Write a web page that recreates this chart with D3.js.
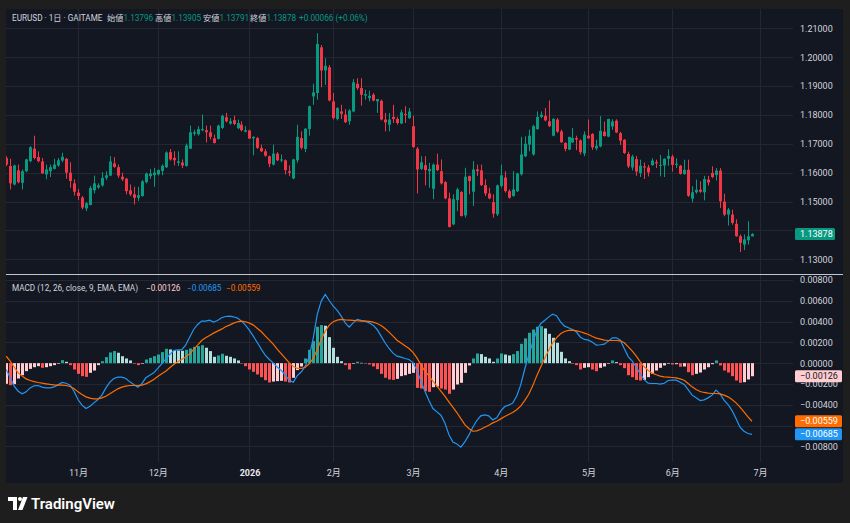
<!DOCTYPE html>
<html>
<head>
<meta charset="utf-8">
<script src="https://cdn.jsdelivr.net/npm/d3@7"></script>
<style>
  html, body { margin: 0; padding: 0; background: #1e1e1e; }
  svg { display: block; font-family: Roboto, "Noto Sans CJK JP", sans-serif; }
</style>
</head>
<body>
<svg id="chart" width="850" height="523"></svg>
<script>
// daily EURUSD bars (index 0 = first visible bar)
const opens = [
1.1651,1.1623,1.1559,1.1608,1.1565,1.1605,1.1640,1.1683,1.1654,1.1639,
1.1594,1.1605,1.1613,1.1625,1.1642,1.1648,1.1600,1.1563,1.1531,1.1514,
1.1476,1.1488,1.1539,1.1549,1.1556,1.1582,1.1590,1.1632,1.1619,1.1586,
1.1579,1.1539,1.1525,1.1513,1.1519,1.1567,1.1588,1.1591,1.1594,1.1606,
1.1619,1.1671,1.1651,1.1634,1.1635,1.1623,1.1683,1.1735,1.1733,1.1747,
1.1747,1.1740,1.1719,1.1717,1.1755,1.1792,1.1770,1.1782,1.1754,1.1766,
1.1742,1.1746,1.1719,1.1720,1.1686,1.1674,1.1657,1.1628,1.1666,1.1642,
1.1643,1.1605,1.1580,1.1643,1.1720,1.1682,1.1751,1.1864,1.1876,1.2034,
1.1954,1.1965,1.1847,1.1786,1.1812,1.1801,1.1778,1.1812,1.1908,1.1893,
1.1867,1.1858,1.1870,1.1847,1.1849,1.1784,1.1766,1.1793,1.1786,1.1770,
1.1803,1.1789,1.1761,1.1683,1.1613,1.1626,1.1605,1.1544,1.1628,1.1605,
1.1567,1.1511,1.1421,1.1505,1.1533,1.1452,1.1588,1.1534,1.1611,1.1608,
1.1557,1.1528,1.1498,1.1456,1.1554,1.1583,1.1536,1.1519,1.1536,1.1594,
1.1657,1.1697,1.1663,1.1751,1.1793,1.1797,1.1778,1.1728,1.1784,1.1743,
1.1703,1.1680,1.1705,1.1720,1.1712,1.1666,1.1728,1.1734,1.1684,1.1691,
1.1742,1.1725,1.1760,1.1780,1.1737,1.1714,1.1665,1.1618,1.1647,1.1599,
1.1622,1.1618,1.1626,1.1636,1.1624,1.1625,1.1648,1.1656,1.1627,1.1624,
1.1595,1.1610,1.1510,1.1532,1.1541,1.1532,1.1576,1.1599,1.1592,1.1607,
1.1500,1.1455,1.1455,1.1423,1.1380,1.1351,1.1366,1.13796];
const highs = [
1.1657,1.1648,1.1628,1.1628,1.1611,1.1648,1.1692,1.1728,1.1674,1.1651,
1.1628,1.1628,1.1648,1.1651,1.1669,1.1651,1.1636,1.1577,1.1544,1.1519,
1.1498,1.1554,1.1590,1.1563,1.1602,1.1605,1.1657,1.1654,1.1628,1.1600,
1.1582,1.1559,1.1551,1.1551,1.1574,1.1600,1.1613,1.1617,1.1611,1.1628,
1.1674,1.1682,1.1674,1.1674,1.1646,1.1701,1.1763,1.1749,1.1761,1.1801,
1.1763,1.1763,1.1732,1.1766,1.1801,1.1807,1.1789,1.1797,1.1784,1.1778,
1.1761,1.1749,1.1726,1.1724,1.1697,1.1682,1.1659,1.1697,1.1671,1.1663,
1.1646,1.1625,1.1648,1.1766,1.1743,1.1755,1.1832,1.1908,1.2083,1.2042,
1.1996,1.1973,1.1876,1.1827,1.1835,1.1820,1.1820,1.1924,1.1927,1.1927,
1.1887,1.1884,1.1876,1.1855,1.1853,1.1807,1.1807,1.1835,1.1793,1.1818,
1.1830,1.1824,1.1797,1.1689,1.1657,1.1657,1.1634,1.1632,1.1666,1.1646,
1.1571,1.1531,1.1525,1.1548,1.1536,1.1617,1.1590,1.1640,1.1628,1.1628,
1.1577,1.1548,1.1525,1.1559,1.1628,1.1605,1.1542,1.1605,1.1600,1.1724,
1.1726,1.1749,1.1766,1.1812,1.1812,1.1824,1.1850,1.1789,1.1789,1.1749,
1.1705,1.1724,1.1755,1.1728,1.1715,1.1743,1.1784,1.1737,1.1714,1.1796,
1.1777,1.1787,1.1785,1.1785,1.1742,1.1716,1.1673,1.1662,1.1658,1.1645,
1.1635,1.1627,1.1650,1.1645,1.1662,1.1650,1.1681,1.1662,1.1650,1.1627,
1.1645,1.1645,1.1553,1.1576,1.1570,1.1589,1.1589,1.1622,1.1616,1.1616,
1.1527,1.1478,1.1472,1.1438,1.1386,1.1386,1.1432,1.13905];
const lows = [
1.1623,1.1542,1.1556,1.1563,1.1542,1.1602,1.1636,1.1646,1.1636,1.1597,
1.1577,1.1585,1.1611,1.1620,1.1636,1.1579,1.1548,1.1521,1.1505,1.1473,
1.1467,1.1487,1.1528,1.1544,1.1551,1.1574,1.1588,1.1617,1.1582,1.1571,
1.1525,1.1519,1.1490,1.1502,1.1517,1.1563,1.1579,1.1551,1.1590,1.1591,
1.1616,1.1642,1.1625,1.1623,1.1616,1.1621,1.1682,1.1728,1.1728,1.1743,
1.1705,1.1715,1.1701,1.1715,1.1751,1.1774,1.1766,1.1765,1.1751,1.1743,
1.1740,1.1717,1.1660,1.1682,1.1671,1.1655,1.1619,1.1625,1.1640,1.1636,
1.1594,1.1588,1.1577,1.1634,1.1680,1.1671,1.1728,1.1835,1.1853,1.1896,
1.1904,1.1847,1.1784,1.1781,1.1786,1.1772,1.1766,1.1809,1.1887,1.1832,
1.1853,1.1847,1.1847,1.1807,1.1781,1.1743,1.1743,1.1772,1.1766,1.1769,
1.1772,1.1786,1.1686,1.1528,1.1609,1.1556,1.1548,1.1508,1.1605,1.1559,
1.1508,1.1410,1.1418,1.1467,1.1448,1.1444,1.1525,1.1485,1.1588,1.1554,
1.1519,1.1508,1.1444,1.1450,1.1548,1.1531,1.1510,1.1517,1.1533,1.1590,
1.1654,1.1674,1.1659,1.1749,1.1789,1.1778,1.1758,1.1726,1.1738,1.1703,
1.1674,1.1678,1.1703,1.1678,1.1663,1.1657,1.1717,1.1679,1.1677,1.1688,
1.1725,1.1723,1.1748,1.1737,1.1696,1.1665,1.1616,1.1608,1.1589,1.1585,
1.1578,1.1587,1.1624,1.1616,1.1587,1.1585,1.1624,1.1604,1.1616,1.1593,
1.1593,1.1516,1.1497,1.1527,1.1530,1.1504,1.1555,1.1581,1.1573,1.1478,
1.1449,1.1417,1.1420,1.1378,1.1325,1.1332,1.1351,1.13791];
const closes = [
1.1628,1.1563,1.1625,1.1567,1.1605,1.1646,1.1688,1.1651,1.1640,1.1597,
1.1611,1.1619,1.1628,1.1643,1.1655,1.1600,1.1571,1.1534,1.1519,1.1479,
1.1494,1.1547,1.1563,1.1556,1.1582,1.1591,1.1639,1.1620,1.1590,1.1577,
1.1536,1.1525,1.1513,1.1522,1.1570,1.1597,1.1597,1.1600,1.1609,1.1624,
1.1670,1.1646,1.1643,1.1639,1.1625,1.1694,1.1740,1.1740,1.1751,1.1751,
1.1740,1.1724,1.1703,1.1763,1.1797,1.1778,1.1778,1.1769,1.1772,1.1747,
1.1747,1.1718,1.1724,1.1686,1.1674,1.1659,1.1631,1.1666,1.1643,1.1646,
1.1609,1.1600,1.1646,1.1724,1.1686,1.1752,1.1830,1.1878,1.2046,1.1954,
1.1970,1.1850,1.1789,1.1824,1.1804,1.1775,1.1815,1.1913,1.1893,1.1870,
1.1872,1.1866,1.1850,1.1855,1.1784,1.1774,1.1784,1.1786,1.1772,1.1809,
1.1800,1.1812,1.1689,1.1611,1.1636,1.1609,1.1613,1.1628,1.1609,1.1563,
1.1511,1.1412,1.1508,1.1542,1.1450,1.1586,1.1571,1.1611,1.1605,1.1557,
1.1528,1.1511,1.1458,1.1556,1.1591,1.1536,1.1513,1.1542,1.1597,1.1663,
1.1700,1.1728,1.1761,1.1793,1.1801,1.1781,1.1761,1.1786,1.1742,1.1705,
1.1682,1.1724,1.1720,1.1715,1.1671,1.1732,1.1719,1.1688,1.1693,1.1745,
1.1727,1.1786,1.1777,1.1739,1.1711,1.1668,1.1622,1.1656,1.1604,1.1624,
1.1618,1.1601,1.1642,1.1632,1.1627,1.1648,1.1658,1.1627,1.1631,1.1596,
1.1610,1.1520,1.1532,1.1541,1.1534,1.1578,1.1566,1.1585,1.1607,1.1501,
1.1455,1.1472,1.1426,1.1380,1.1357,1.1369,1.1380,1.13878];

// MACD (12, 26, 9) as drawn
const macdLine = [
-0.00061,-0.00141,-0.00221,-0.00270,-0.00295,-0.00276,-0.00238,-0.00218,-0.00215,-0.00231,
-0.00238,-0.00238,-0.00228,-0.00209,-0.00186,-0.00193,-0.00212,-0.00270,-0.00350,-0.00404,
-0.00437,-0.00414,-0.00382,-0.00350,-0.00308,-0.00238,-0.00183,-0.00148,-0.00135,-0.00135,
-0.00148,-0.00180,-0.00205,-0.00231,-0.00199,-0.00141,-0.00116,-0.00093,-0.00051,-0.00006,
0.00042,0.00083,0.00122,0.00128,0.00128,0.00173,0.00250,0.00324,0.00372,0.00404,
0.00404,0.00414,0.00395,0.00411,0.00437,0.00449,0.00453,0.00446,0.00433,0.00404,
0.00366,0.00315,0.00257,0.00196,0.00132,0.00074,0.00035,0.00000,-0.00039,-0.00071,
-0.00116,-0.00167,-0.00183,-0.00119,-0.00083,-0.00029,0.00067,0.00244,0.00469,0.00597,
0.00661,0.00603,0.00549,0.00507,0.00453,0.00388,0.00347,0.00388,0.00421,0.00411,
0.00404,0.00388,0.00366,0.00324,0.00260,0.00196,0.00141,0.00096,0.00067,0.00058,
0.00045,0.00035,0.00006,-0.00071,-0.00173,-0.00270,-0.00360,-0.00437,-0.00469,-0.00501,
-0.00575,-0.00687,-0.00758,-0.00777,-0.00809,-0.00758,-0.00693,-0.00616,-0.00552,-0.00507,
-0.00498,-0.00507,-0.00546,-0.00526,-0.00462,-0.00417,-0.00404,-0.00385,-0.00318,-0.00212,
-0.00061,0.00074,0.00196,0.00308,0.00379,0.00411,0.00443,0.00472,0.00456,0.00398,
0.00356,0.00340,0.00324,0.00299,0.00250,0.00228,0.00221,0.00202,0.00173,0.00177,
0.00183,0.00212,0.00244,0.00244,0.00221,0.00138,0.00061,0.00019,-0.00039,-0.00103,
-0.00161,-0.00193,-0.00196,-0.00196,-0.00202,-0.00193,-0.00167,-0.00164,-0.00164,-0.00183,
-0.00205,-0.00254,-0.00308,-0.00334,-0.00360,-0.00353,-0.00334,-0.00308,-0.00260,-0.00295,
-0.00356,-0.00398,-0.00456,-0.00533,-0.00616,-0.00655,-0.00677,-0.00685];
const signalLine = [
0.00067,0.00019,-0.00039,-0.00093,-0.00125,-0.00151,-0.00167,-0.00177,-0.00186,-0.00193,
-0.00199,-0.00205,-0.00209,-0.00212,-0.00212,-0.00215,-0.00225,-0.00244,-0.00276,-0.00302,
-0.00324,-0.00337,-0.00343,-0.00343,-0.00334,-0.00318,-0.00295,-0.00270,-0.00247,-0.00231,
-0.00221,-0.00215,-0.00215,-0.00215,-0.00212,-0.00199,-0.00180,-0.00157,-0.00128,-0.00103,
-0.00077,-0.00045,-0.00013,0.00013,0.00035,0.00058,0.00090,0.00132,0.00173,0.00218,
0.00244,0.00266,0.00289,0.00308,0.00327,0.00350,0.00366,0.00385,0.00398,0.00404,
0.00398,0.00385,0.00366,0.00334,0.00302,0.00260,0.00221,0.00180,0.00132,0.00090,
0.00045,0.00003,-0.00032,-0.00051,-0.00051,-0.00039,-0.00006,0.00045,0.00132,0.00228,
0.00308,0.00366,0.00398,0.00414,0.00421,0.00417,0.00414,0.00411,0.00408,0.00404,
0.00404,0.00401,0.00395,0.00382,0.00363,0.00334,0.00299,0.00260,0.00221,0.00193,
0.00167,0.00141,0.00103,0.00051,-0.00019,-0.00077,-0.00122,-0.00173,-0.00221,-0.00270,
-0.00318,-0.00372,-0.00424,-0.00475,-0.00533,-0.00591,-0.00629,-0.00655,-0.00652,-0.00636,
-0.00616,-0.00597,-0.00575,-0.00559,-0.00536,-0.00514,-0.00494,-0.00475,-0.00449,-0.00414,
-0.00360,-0.00302,-0.00221,-0.00125,-0.00039,0.00045,0.00122,0.00193,0.00244,0.00282,
0.00305,0.00315,0.00318,0.00311,0.00302,0.00289,0.00276,0.00257,0.00241,0.00231,
0.00221,0.00218,0.00218,0.00218,0.00215,0.00196,0.00157,0.00116,0.00067,0.00013,
-0.00035,-0.00071,-0.00096,-0.00112,-0.00125,-0.00132,-0.00135,-0.00138,-0.00141,-0.00151,
-0.00164,-0.00196,-0.00228,-0.00254,-0.00273,-0.00282,-0.00289,-0.00292,-0.00292,-0.00295,
-0.00308,-0.00324,-0.00350,-0.00382,-0.00424,-0.00469,-0.00517,-0.00559];
const histogram = [
-0.00199,-0.00212,-0.00202,-0.00148,-0.00116,-0.00077,-0.00055,-0.00039,-0.00029,-0.00045,
-0.00039,-0.00029,-0.00019,-0.00006,0.00029,0.00013,-0.00019,-0.00061,-0.00103,-0.00125,
-0.00132,-0.00093,-0.00071,-0.00019,0.00019,0.00058,0.00103,0.00116,0.00100,0.00067,
0.00045,0.00026,-0.00006,-0.00019,-0.00006,0.00035,0.00051,0.00067,0.00083,0.00106,
0.00138,0.00132,0.00125,0.00122,0.00119,0.00128,0.00141,0.00157,0.00164,0.00173,
0.00148,0.00116,0.00061,0.00074,0.00090,0.00071,0.00061,0.00045,0.00026,-0.00003,
-0.00029,-0.00061,-0.00083,-0.00109,-0.00135,-0.00164,-0.00186,-0.00177,-0.00173,-0.00170,
-0.00177,-0.00186,-0.00141,-0.00067,-0.00032,0.00045,0.00128,0.00212,0.00350,0.00366,
0.00360,0.00250,0.00148,0.00061,0.00019,-0.00019,-0.00061,-0.00006,0.00013,0.00003,
-0.00003,-0.00013,-0.00032,-0.00058,-0.00103,-0.00141,-0.00157,-0.00161,-0.00151,-0.00125,
-0.00116,-0.00103,-0.00093,-0.00238,-0.00244,-0.00270,-0.00276,-0.00231,-0.00225,-0.00244,
-0.00254,-0.00295,-0.00254,-0.00205,-0.00189,-0.00093,-0.00022,0.00045,0.00093,0.00087,
0.00061,0.00045,0.00013,0.00045,0.00093,0.00083,0.00074,0.00087,0.00116,0.00186,
0.00238,0.00292,0.00324,0.00350,0.00356,0.00334,0.00282,0.00244,0.00196,0.00109,
0.00045,0.00019,-0.00006,-0.00019,-0.00061,-0.00045,-0.00039,-0.00061,-0.00077,-0.00045,
-0.00032,-0.00006,0.00026,0.00010,-0.00019,-0.00048,-0.00116,-0.00135,-0.00161,-0.00167,
-0.00161,-0.00135,-0.00103,-0.00071,-0.00045,-0.00022,-0.00006,-0.00013,-0.00010,-0.00035,
-0.00032,-0.00087,-0.00116,-0.00103,-0.00090,-0.00061,-0.00039,-0.00010,0.00026,-0.00022,
-0.00071,-0.00090,-0.00125,-0.00167,-0.00189,-0.00183,-0.00157,-0.00126];

// 1.14 and -0.006 sit under the last-value tags and are not shown
const priceTicks = [1.13, 1.14, 1.15, 1.16, 1.17, 1.18, 1.19, 1.20, 1.21];
const priceLabels = [1.13, 1.15, 1.16, 1.17, 1.18, 1.19, 1.20, 1.21];
const macdTicks = [-0.008, -0.006, -0.004, -0.002, 0, 0.002, 0.004, 0.006, 0.008];
const macdLabels = [-0.008, -0.004, -0.002, 0, 0.002, 0.004, 0.006, 0.008];
const monthIdx = [18, 38, 61, 82, 102, 124, 146, 167, 189];
const monthLabels = ['11月', '12月', '2026', '2月', '3月', '4月', '5月', '6月', '7月'];

const W = 850, H = 523;
const plotLeft = 6, plotRight = 793;
const upCol = '#089981', downCol = '#f23645';
const textCol = '#d1d4dc', gridCol = '#232734';

const svg = d3.select('#chart');

svg.append('rect').attr('width', W).attr('height', H).attr('fill', '#1e1e1e');
svg.append('rect')
  .attr('x', 6).attr('y', 9).attr('width', 837).attr('height', 474)
  .attr('fill', '#131722');

const x = d3.scaleLinear().domain([0, 189]).range([6.2, 6.2 + 189 * 3.988]);
const yPrice = d3.scaleLinear().domain([1.13, 1.21]).range([259.3, 28.3]);
const yMacd = d3.scaleLinear().domain([-0.008, 0.008]).range([446.3, 280]);

const px = v => Math.round(v) + 0.5;

// clip areas for the two panes
const defs = svg.append('defs');
defs.append('clipPath').attr('id', 'clipPrice')
  .append('rect').attr('x', plotLeft).attr('y', 9).attr('width', plotRight - plotLeft).attr('height', 265);
defs.append('clipPath').attr('id', 'clipMacd')
  .append('rect').attr('x', plotLeft).attr('y', 275).attr('width', plotRight - plotLeft).attr('height', 187);

// grid
const grid = svg.append('g').attr('stroke', gridCol).attr('stroke-width', 1);
grid.selectAll('.hp').data(priceTicks).join('line')
  .attr('x1', plotLeft).attr('x2', plotRight)
  .attr('y1', d => px(yPrice(d))).attr('y2', d => px(yPrice(d)));
grid.selectAll('.hm').data(macdTicks).join('line')
  .attr('x1', plotLeft).attr('x2', plotRight)
  .attr('y1', d => px(yMacd(d))).attr('y2', d => px(yMacd(d)));
grid.selectAll('.vp').data(monthIdx).join('line')
  .attr('x1', d => px(x(d))).attr('x2', d => px(x(d)))
  .attr('y1', 9).attr('y2', 274);
grid.selectAll('.vm').data(monthIdx).join('line')
  .attr('x1', d => px(x(d))).attr('x2', d => px(x(d)))
  .attr('y1', 275).attr('y2', 462);

// candles
const bars = d3.range(closes.length);
const candles = svg.append('g').attr('clip-path', 'url(#clipPrice)');
candles.selectAll('line').data(bars).join('line')
  .attr('x1', i => px(x(i))).attr('x2', i => px(x(i)))
  .attr('y1', i => yPrice(highs[i])).attr('y2', i => yPrice(lows[i]))
  .attr('stroke', i => closes[i] >= opens[i] ? upCol : downCol)
  .attr('stroke-width', 1);
candles.selectAll('rect').data(bars).join('rect')
  .attr('x', i => Math.round(x(i)) - 1)
  .attr('width', 3)
  .attr('y', i => yPrice(Math.max(opens[i], closes[i])))
  .attr('height', i => Math.max(1, Math.abs(yPrice(opens[i]) - yPrice(closes[i]))))
  .attr('fill', i => closes[i] >= opens[i] ? upCol : downCol);

// MACD histogram
function histColor(i) {
  const h = histogram[i], prev = i > 0 ? histogram[i - 1] : h;
  if (h >= 0) return h >= prev ? '#26a69a' : '#b2dfdb';
  return h < prev ? '#ff5252' : '#ffcdd2';
}
const macdG = svg.append('g').attr('clip-path', 'url(#clipMacd)');
macdG.selectAll('rect').data(bars).join('rect')
  .attr('x', i => Math.round(x(i)) - 1)
  .attr('width', 3)
  .attr('y', i => Math.min(yMacd(0), yMacd(histogram[i])))
  .attr('height', i => Math.max(0.5, Math.abs(yMacd(histogram[i]) - yMacd(0))))
  .attr('fill', histColor);

const line = d3.line().x((d, i) => x(i)).y(d => yMacd(d));
macdG.append('path').datum(macdLine)
  .attr('d', line).attr('fill', 'none').attr('stroke', '#2196f3').attr('stroke-width', 1.2);
macdG.append('path').datum(signalLine)
  .attr('d', line).attr('fill', 'none').attr('stroke', '#ff6d00').attr('stroke-width', 1.2);

// pane separator
svg.append('line')
  .attr('x1', 6).attr('x2', 843).attr('y1', 274.5).attr('y2', 274.5)
  .attr('stroke', '#c3c6ce').attr('stroke-width', 1);

// axes
const minus = v => (v < 0 ? '\u2212' : '') + Math.abs(v).toFixed(5);

const priceAxis = svg.append('g').attr('transform', 'translate(797,0)')
  .call(d3.axisRight(yPrice).tickValues(priceLabels).tickFormat(d => d.toFixed(5)).tickSize(0).tickPadding(3));
const macdAxis = svg.append('g').attr('transform', 'translate(797,0)')
  .call(d3.axisRight(yMacd).tickValues(macdLabels).tickFormat(minus).tickSize(0).tickPadding(3));
const timeAxis = svg.append('g').attr('transform', 'translate(0,462)')
  .call(d3.axisBottom(x).tickValues(monthIdx).tickFormat((d, i) => monthLabels[i]).tickSize(0).tickPadding(8));

[priceAxis, macdAxis, timeAxis].forEach(g => {
  g.select('.domain').remove();
  g.selectAll('text').attr('fill', textCol).style('font-size', '9px')
    .style('font-family', 'Roboto, "Noto Sans CJK JP", sans-serif');
});
timeAxis.selectAll('text').filter(d => monthLabels[monthIdx.indexOf(d)] === '2026')
  .style('font-weight', 'bold').attr('fill', '#e6e8ee');

// last value tags on the scales
function tag(y, w, bg, fg, label) {
  svg.append('rect').attr('x', 795).attr('y', y - 6).attr('width', w).attr('height', 12)
    .attr('rx', 1.5).attr('fill', bg);
  svg.append('text').attr('x', 800).attr('y', y).attr('dy', '0.34em')
    .attr('fill', fg).style('font-size', '9px').text(label);
}
const lastIdx = closes.length - 1;
tag(yPrice(closes[lastIdx]), 40, upCol, '#ffffff', closes[lastIdx].toFixed(5));
tag(yMacd(histogram[lastIdx]), 47, '#ffcdd2', '#131722', minus(histogram[lastIdx]));
tag(yMacd(signalLine[lastIdx]), 47, '#ff6d00', '#ffffff', minus(signalLine[lastIdx]));
tag(yMacd(macdLine[lastIdx]), 47, '#2196f3', '#ffffff', minus(macdLine[lastIdx]));

// legends: each label is followed directly by its value in one text run
const legend = svg.append('g').style('font-size', '8.2px');
legend.append('text').attr('x', 12).attr('y', 18.5).attr('dy', '0.34em')
  .attr('fill', textCol).text('EURUSD · 1日 · GAITAME');
const ohlcHead = [
  ['始値', opens[lastIdx], 107],
  ['高値', highs[lastIdx], 155],
  ['安値', lows[lastIdx], 203],
  ['終値', closes[lastIdx], 250]
];
ohlcHead.forEach(d => {
  const t = legend.append('text').attr('x', d[2]).attr('y', 18.5).attr('dy', '0.34em');
  t.append('tspan').attr('fill', textCol).text(d[0]);
  t.append('tspan').attr('fill', upCol).text(d[1].toFixed(5));
});
legend.append('text').attr('x', 299).attr('y', 18.5).attr('dy', '0.34em')
  .attr('fill', upCol).text('+0.00066 (+0.06%)');

const macdHead = [
  ['MACD (12, 26, close, 9, EMA, EMA)', 12, textCol],
  [minus(histogram[lastIdx]), 146, '#ffcdd2'],
  [minus(macdLine[lastIdx]), 187, '#2196f3'],
  [minus(signalLine[lastIdx]), 226, '#ff6d00']
];
legend.selectAll('.m').data(macdHead).join('text')
  .attr('x', d => d[1]).attr('y', 288).attr('dy', '0.34em')
  .attr('fill', d => d[2]).text(d => d[0]);

// TradingView mark
const logo = svg.append('g').attr('fill', '#ffffff');
logo.append('path').attr('d', 'M8,497 H17 V510 H13 V501 H8 Z');
logo.append('circle').attr('cx', 20).attr('cy', 499).attr('r', 2);
logo.append('path').attr('d', 'M23,497 H27.5 L22.5,510 H18 Z');
logo.append('text').attr('x', 31).attr('y', 503.5).attr('dy', '0.35em')
  .style('font-size', '15px').style('font-weight', 600).text('TradingView');
</script>
</body>
</html>
